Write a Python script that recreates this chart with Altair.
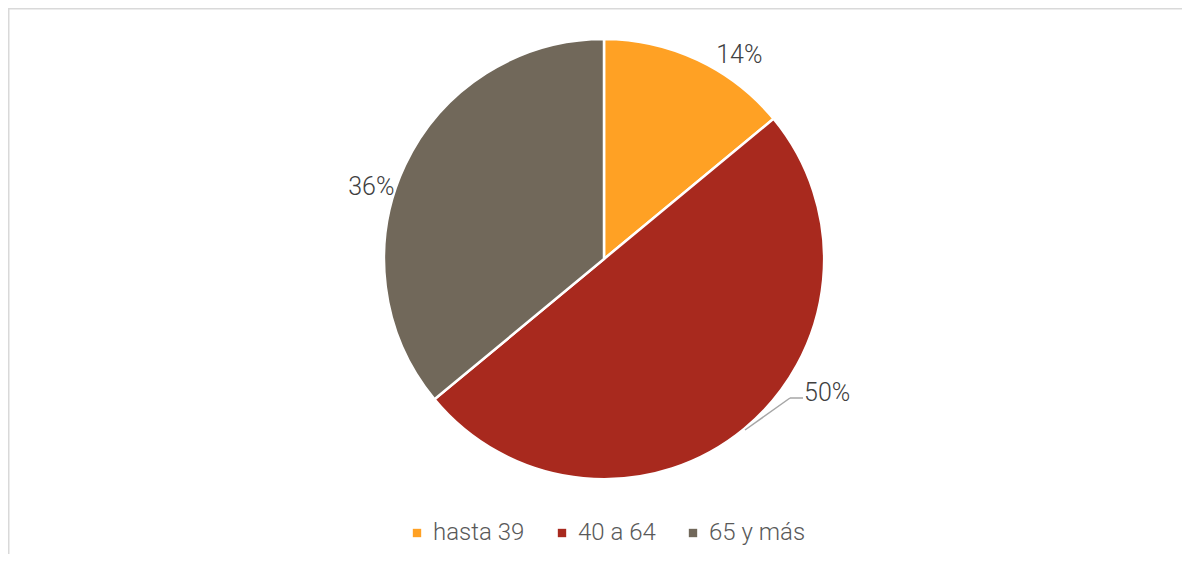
import altair as alt
import pandas as pd

categories = ["hasta 39", "40 a 64", "65 y más"]
shares = [14, 50, 36]
labels = ["14%", "50%", "36%"]
colors = ["#FFA124", "#A8291E", "#71685A"]

df = pd.DataFrame({"cat": categories, "val": shares, "lab": labels, "ord": [0, 1, 2]})

CX, CY = 596, 251
R = 220

pie = alt.Chart(df).mark_arc(outerRadius=R, stroke="white", strokeWidth=2.5).encode(
    theta=alt.Theta("val:Q", stack=True),
    order=alt.Order("ord:Q"),
    x=alt.value(CX),
    y=alt.value(CY),
    color=alt.Color(
        "cat:N",
        scale=alt.Scale(domain=categories, range=colors),
        sort=categories,
        legend=alt.Legend(
            title=None,
            orient="none",
            direction="horizontal",
            legendX=397,
            legendY=513,
            symbolType="square",
            symbolSize=70,
            symbolStrokeWidth=0,
            labelFontSize=24,
            labelFont="Roboto",
            labelFontWeight=300,
            labelColor="#595959",
            columnPadding=25,
            labelOffset=4,
            padding=0,
        ),
    ),
)

label_base = alt.Chart(df).transform_window(
    cum="sum(val)", sort=[alt.SortField("ord")]
).transform_calculate(
    mid="datum.cum - datum.val / 2"
).encode(
    theta=alt.Theta("mid:Q", stack=None, scale=alt.Scale(domain=[0, 100], range=[0, 6.2832])),
    x=alt.value(CX),
    y=alt.value(CY),
)

offsets = {"hasta 39": (31, 18), "40 a 64": (67, -55), "65 y más": (-11, 32)}
text_layers = []
for c in categories:
    dx, dy = offsets[c]
    text_layers.append(
        label_base.transform_filter(alt.datum.cat == c)
        .mark_text(radius=245, dx=dx, dy=dy, fontSize=25, font="Roboto",
                   fontWeight=300, color="#404040")
        .encode(text="lab:N")
    )

border = alt.Chart(alt.Data(values=[{}])).mark_rect(
    fill="transparent", stroke="#D9D9D9", strokeWidth=1.5
).encode(x=alt.value(0.75), y=alt.value(0.75), x2=alt.value(3000), y2=alt.value(3000))

leader1 = alt.Chart(alt.Data(values=[{}])).mark_rule(color="#A6A6A6", strokeWidth=1.5).encode(
    x=alt.value(737), y=alt.value(422), x2=alt.value(782), y2=alt.value(390)
)
leader2 = alt.Chart(alt.Data(values=[{}])).mark_rule(color="#A6A6A6", strokeWidth=1.5).encode(
    x=alt.value(782), x2=alt.value(795), y=alt.value(390)
)

chart = alt.layer(border, pie, leader1, leader2, *text_layers).resolve_scale(
    theta="independent"
).properties(
    width=1174, height=546, padding=0, autosize=alt.AutoSizeParams(type="none")
).configure_view(stroke=None).configure(background="white")

chart.save("out.html", embed_options={"renderer": "svg", "actions": False})
